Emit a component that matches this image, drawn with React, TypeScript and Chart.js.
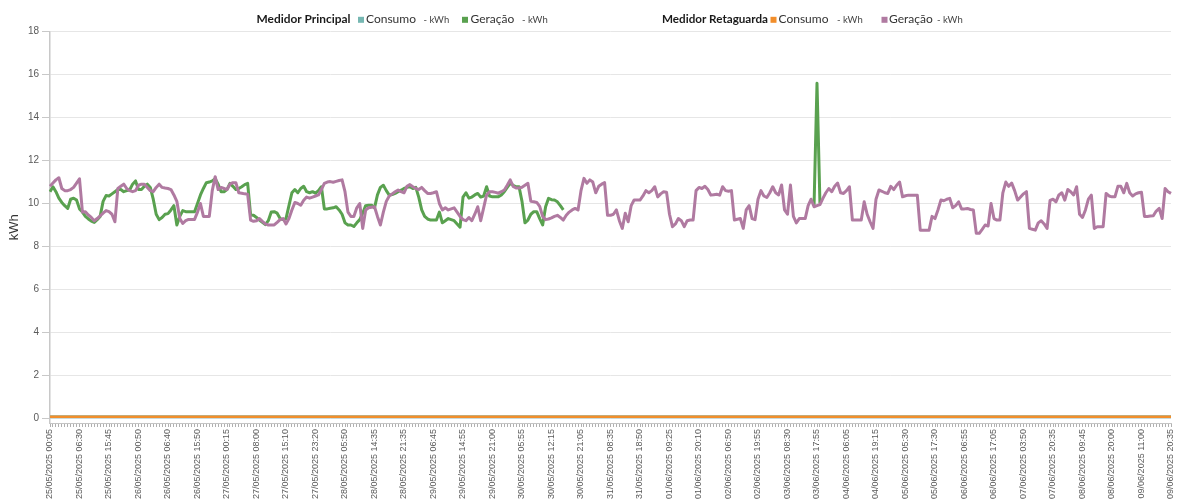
import React, { useEffect, useRef } from 'react';
import { Chart, registerables } from 'chart.js';

Chart.register(...registerables);

// ---------- DATA ----------
const TICK_LABELS = [
  '25/05/2025 00:05', '25/05/2025 06:30', '25/05/2025 15:45', '26/05/2025 00:50', '26/05/2025 06:40',
  '26/05/2025 15:50', '27/05/2025 00:15', '27/05/2025 08:00', '27/05/2025 15:10', '27/05/2025 23:20',
  '28/05/2025 05:50', '28/05/2025 14:35', '28/05/2025 21:35', '29/05/2025 06:45', '29/05/2025 14:55',
  '29/05/2025 21:00', '30/05/2025 05:55', '30/05/2025 12:15', '30/05/2025 21:05', '31/05/2025 08:35',
  '31/05/2025 18:50', '01/06/2025 09:25', '01/06/2025 20:10', '02/06/2025 06:50', '02/06/2025 19:55',
  '03/06/2025 08:30', '03/06/2025 17:55', '04/06/2025 06:05', '04/06/2025 19:15', '05/06/2025 05:30',
  '05/06/2025 17:30', '06/06/2025 06:55', '06/06/2025 17:05', '07/06/2025 03:50', '07/06/2025 20:35',
  '08/06/2025 09:45', '08/06/2025 20:00', '09/06/2025 11:00', '09/06/2025 20:35',
];
const POINTS_PER_TICK = 10;

// Medidor Retaguarda - Geração (kWh)
const RETAGUARDA_GERACAO = [
  10.8, 10.95, 11.1, 11.2, 10.7, 10.6, 10.6, 10.65, 10.75, 10.95,
  11.15, 9.6, 9.62, 9.47, 9.35, 9.2, 9.3, 9.42, 9.55, 9.67,
  9.62, 9.5, 9.15, 10.7, 10.8, 10.9, 10.7, 10.6, 10.55, 10.6,
  10.85, 10.9, 10.9, 10.75, 10.6, 10.55, 10.75, 10.9, 10.75, 10.72,
  10.7, 10.65, 10.4, 10.1, 9.3, 9.07, 9.2, 9.26, 9.26, 9.26,
  9.6, 10.0, 9.4, 9.4, 9.4, 10.6, 11.25, 10.65, 10.75, 10.7,
  10.65, 10.9, 10.97, 10.97, 10.5, 10.48, 10.45, 10.43, 9.23, 9.17,
  9.2, 9.3, 9.17, 9.05, 9.0, 9.0, 9.0, 9.12, 9.25, 9.3,
  9.05, 9.3, 9.7, 10.05, 10.0, 9.92, 10.15, 10.3, 10.25, 10.3,
  10.35, 10.4, 10.65, 10.94, 11.0, 11.02, 10.99, 11.03, 11.07, 11.1,
  10.55, 9.6, 9.4, 9.4, 9.8, 10.0, 8.84, 9.7, 9.8, 9.83,
  9.85, 9.4, 9.0, 9.6, 10.1, 10.35, 10.45, 10.55, 10.63, 10.55,
  10.5, 10.8, 10.88, 10.78, 10.7, 10.65, 10.75, 10.6, 10.47, 10.47,
  10.5, 10.55, 10.0, 9.7, 9.8, 9.7, 9.75, 9.8, 9.6, 9.4,
  9.25, 9.2, 9.35, 9.2, 9.5, 9.85, 9.2, 9.8, 10.4, 10.55,
  10.55, 10.52, 10.48, 10.55, 10.63, 10.85, 11.1, 10.8, 10.72, 10.72,
  10.76, 10.85, 10.94, 10.1, 10.08, 10.05, 9.87, 9.4, 9.25, 9.28,
  9.33, 9.4, 9.45, 9.35, 9.23, 9.45, 9.6, 9.7, 9.77, 9.7,
  10.6, 11.17, 10.94, 11.1, 11.0, 10.5, 10.8, 10.9, 10.97, 9.45,
  9.45, 9.5, 9.7, 9.2, 8.84, 9.55, 9.15, 9.9, 10.16, 10.16,
  10.16, 10.35, 10.6, 10.5, 10.6, 10.78, 10.31, 10.45, 10.55, 10.53,
  9.5, 8.92, 9.05, 9.3, 9.2, 8.92, 9.2, 9.23, 9.23, 10.6,
  10.75, 10.7, 10.8, 10.65, 10.39, 10.41, 10.43, 10.39, 10.78, 10.6,
  10.57, 10.6, 9.23, 9.27, 9.3, 8.84, 9.7, 9.9, 9.3, 9.25,
  10.2, 10.6, 10.35, 10.28, 10.5, 10.78, 10.5, 10.4, 10.86, 9.7,
  9.5, 10.86, 9.4, 9.1, 9.3, 9.3, 9.3, 9.9, 10.2, 9.85,
  9.9, 9.95, 10.24, 10.5, 10.7, 10.55, 10.8, 10.95, 10.5, 10.47,
  10.6, 10.78, 9.23, 9.23, 9.23, 9.23, 10.08, 9.5, 9.15, 8.84,
  10.2, 10.63, 10.57, 10.5, 10.47, 10.8, 10.65, 10.85, 11.0, 10.31,
  10.36, 10.39, 10.39, 10.39, 10.39, 8.76, 8.76, 8.76, 8.76, 9.4,
  9.3, 9.7, 10.16, 10.13, 10.2, 10.24, 9.8, 9.9, 10.08, 9.75,
  9.75, 9.77, 9.72, 9.7, 8.61, 8.61, 8.8, 9.0, 8.95, 10.0,
  9.3, 9.23, 9.23, 10.5, 11.0, 10.8, 10.95, 10.6, 10.16, 10.3,
  10.45, 10.55, 8.84, 8.8, 8.76, 9.1, 9.2, 9.05, 8.84, 10.15,
  10.2, 10.08, 10.4, 10.5, 10.16, 10.65, 10.55, 10.4, 10.78, 9.5,
  9.35, 9.7, 10.2, 10.39, 8.84, 8.92, 8.92, 8.92, 10.47, 10.35,
  10.31, 10.31, 10.8, 10.8, 10.5, 10.94, 10.5, 10.35, 10.45, 10.5,
  10.52, 9.4, 9.4, 9.42, 9.43, 9.65, 9.77, 9.3, 10.7, 10.55,
  10.47,
];

// Medidor Principal - Geração (kWh), first stretch
const PRINCIPAL_GERACAO = [
  10.55, 10.78, 10.55, 10.25, 10.05, 9.9, 9.77, 10.2, 10.25, 10.16,
  9.75, 9.6, 9.4, 9.28, 9.18, 9.12, 9.25, 9.4, 10.1, 10.37,
  10.35, 10.45, 10.55, 10.65, 10.65, 10.55, 10.6, 10.63, 10.9, 11.05,
  10.65, 10.65, 10.8, 10.9, 10.75, 10.2, 9.5, 9.25, 9.35, 9.5,
  9.53, 9.7, 9.9, 9.0, 9.4, 9.67, 9.62, 9.62, 9.62, 9.62,
  10.0, 10.4, 10.7, 10.97, 11.0, 11.05, 11.15, 10.9, 10.55, 10.55,
  10.65, 10.94, 10.8, 10.65, 10.7, 10.78, 10.88, 10.94, 9.47, 9.45,
  9.35, 9.23, 9.12, 9.02, 9.2, 9.6, 9.62, 9.55, 9.3, 9.25,
  9.3, 9.9, 10.5, 10.65, 10.5, 10.7, 10.8, 10.55, 10.5, 10.55,
  10.48, 10.6, 10.78, 9.75, 9.75, 9.78, 9.8, 9.85, 9.7, 9.5,
  9.1, 9.0, 9.0, 8.93, 9.1, 9.25, 9.55, 9.9, 9.92, 9.92,
  9.8, 10.4, 10.75, 10.85, 10.6, 10.39, 10.42, 10.47, 10.55, 10.62,
  10.7, 10.75, 10.78, 10.7, 10.75, 10.3, 9.7, 9.4, 9.28, 9.23,
  9.23, 9.23, 9.6, 9.1, 9.2, 9.3, 9.25, 9.2, 9.05, 8.9,
  10.3, 10.5, 10.25, 10.3, 10.4, 10.47, 10.3, 10.35, 10.78, 10.35,
  10.31, 10.31, 10.31, 10.4, 10.55, 10.75, 10.94, 10.85, 10.78, 10.78,
  10.1, 9.1, 9.23, 9.5, 9.62, 9.62, 9.3, 9.0, 9.85, 10.24,
  10.18, 10.16, 10.08, 9.9, 9.7,
];
// Medidor Principal - Geração, short spike on 03/06
const PRINCIPAL_SPIKE_START = 259;
const PRINCIPAL_SPIKE = [9.9, 15.6, 10.0];

// Consumo (flat, near zero) for both meters
const RETAGUARDA_CONSUMO_LEVEL = 0.07;
const PRINCIPAL_CONSUMO_LEVEL = 0.07;

const Y_TICKS = [0, 2, 4, 6, 8, 10, 12, 14, 16, 18];
const Y_MIN = -0.22;
const Y_MAX = 18;

// ---------- STYLE ----------
const C_TEAL = '#76b7b2';
const C_GREEN = '#59a14f';
const C_ORANGE = '#f28e2b';
const C_PURPLE = '#b07aa1';
const AXIS_FONT = '"Liberation Sans", Arial, Helvetica, sans-serif';
const LEGEND_FONT = 'Lato, "Open Sans", sans-serif';

const CATEGORIES: string[] = Array.from(
  { length: (TICK_LABELS.length - 1) * POINTS_PER_TICK + 1 },
  (_, i) => (i % POINTS_PER_TICK === 0 ? TICK_LABELS[i / POINTS_PER_TICK] : '')
);

const LEGEND = [
  {
    title: 'Medidor Principal',
    titleX: 256.5,
    titleW: 94,
    items: [
      { label: 'Consumo', color: C_TEAL, sq: 358, text: 366, unit: 423.5 },
      { label: 'Geração', color: C_GREEN, sq: 462, text: 470.5, unit: 522 },
    ],
  },
  {
    title: 'Medidor Retaguarda',
    titleX: 662,
    titleW: 106,
    items: [
      { label: 'Consumo', color: C_ORANGE, sq: 770.5, text: 778.5, unit: 837 },
      { label: 'Geração', color: C_PURPLE, sq: 881.5, text: 889, unit: 937 },
    ],
  },
];

const legendPlugin = {
  id: 'groupedLegend',
  afterDraw(chart: any) {
    const ctx = chart.ctx as CanvasRenderingContext2D;
    const base = 22.5;
    ctx.save();
    ctx.textBaseline = 'alphabetic';
    ctx.textAlign = 'left';
    for (const g of LEGEND) {
      ctx.font = `bold 12px ${LEGEND_FONT}`;
      ctx.fillStyle = '#1a1a1a';
      ctx.fillText(g.title, g.titleX, base, g.titleW);
      for (const it of g.items) {
        ctx.fillStyle = it.color;
        ctx.fillRect(it.sq, 16.8, 6, 6);
        ctx.font = `12px ${LEGEND_FONT}`;
        ctx.fillStyle = '#333';
        ctx.fillText(it.label, it.text, base);
        ctx.font = `9.5px ${LEGEND_FONT}`;
        ctx.fillStyle = '#444';
        ctx.fillText('- kWh', it.unit, base);
      }
    }
    ctx.restore();
  },
};

export default function App() {
  const ref = useRef<HTMLCanvasElement>(null);

  useEffect(() => {
    if (!ref.current) return;

    const principalGeracao = CATEGORIES.map((_, i) => {
      if (i < PRINCIPAL_GERACAO.length) return PRINCIPAL_GERACAO[i];
      const k = i - PRINCIPAL_SPIKE_START;
      if (k >= 0 && k < PRINCIPAL_SPIKE.length) return PRINCIPAL_SPIKE[k];
      return null;
    });
    const principalConsumo = CATEGORIES.map(() => PRINCIPAL_CONSUMO_LEVEL);
    const retaguardaConsumo = CATEGORIES.map(() => RETAGUARDA_CONSUMO_LEVEL);

    const common = {
      pointRadius: 0,
      pointHoverRadius: 0,
      borderWidth: 3,
      tension: 0,
      fill: false,
      borderJoinStyle: 'round' as const,
      spanGaps: false,
    };

    const chart = new Chart(ref.current, {
      type: 'line',
      data: {
        labels: CATEGORIES,
        datasets: [
          { ...common, label: 'Principal Consumo', data: principalConsumo, borderColor: C_TEAL, backgroundColor: C_TEAL, order: 4 },
          { ...common, label: 'Principal Geração', data: principalGeracao, borderColor: C_GREEN, backgroundColor: C_GREEN, order: 3 },
          { ...common, label: 'Retaguarda Consumo', data: retaguardaConsumo, borderColor: C_ORANGE, backgroundColor: C_ORANGE, borderWidth: 2.5, order: 2 },
          { ...common, label: 'Retaguarda Geração', data: RETAGUARDA_GERACAO, borderColor: C_PURPLE, backgroundColor: C_PURPLE, order: 1 },
        ],
      },
      options: {
        responsive: false,
        animation: false,
        events: [],
        font: { family: AXIS_FONT },
        layout: { padding: { left: 0, top: 31.7, right: 14, bottom: 0 } },
        plugins: { legend: { display: false }, tooltip: { enabled: false }, title: { display: false } },
        scales: {
          x: {
            type: 'category',
            offset: false,
            grid: { drawOnChartArea: false, drawTicks: true, tickLength: 4, tickColor: '#b0b0b0' },
            border: { display: true, color: '#c4c4c4', width: 1 },
            ticks: {
              autoSkip: false,
              minRotation: 90,
              maxRotation: 90,
              padding: 2,
              color: '#5a5a5a',
              font: { size: 9, family: AXIS_FONT },
              callback: (_v: any, i: number) => CATEGORIES[i],
            },
            afterFit: (scale: any) => { scale.height = 80; },
          },
          y: {
            min: Y_MIN,
            max: Y_MAX,
            grid: { color: '#e6e6e6', lineWidth: 1, tickLength: 8, tickColor: '#c8c8c8' },
            border: { display: true, color: '#c8c8c8', width: 1.5 },
            ticks: { color: '#5a5a5a', font: { size: 10, family: AXIS_FONT }, padding: 3 },
            afterBuildTicks: (scale: any) => { scale.ticks = Y_TICKS.map((v) => ({ value: v })); },
            afterFit: (scale: any) => { scale.width = 50; },
            title: { display: true, text: 'kWh', color: '#333', font: { size: 13, family: AXIS_FONT }, padding: { top: 7, bottom: 0 } },
          },
        },
      } as any,
      plugins: [legendPlugin],
    });
    return () => chart.destroy();
  }, []);

  return (
    <div style={{ position: 'absolute', left: 0, top: 0, width: 1185, height: 503, background: '#fff' }}>
      <canvas ref={ref} width={1185} height={503} style={{ display: 'block' }} />
    </div>
  );
}
